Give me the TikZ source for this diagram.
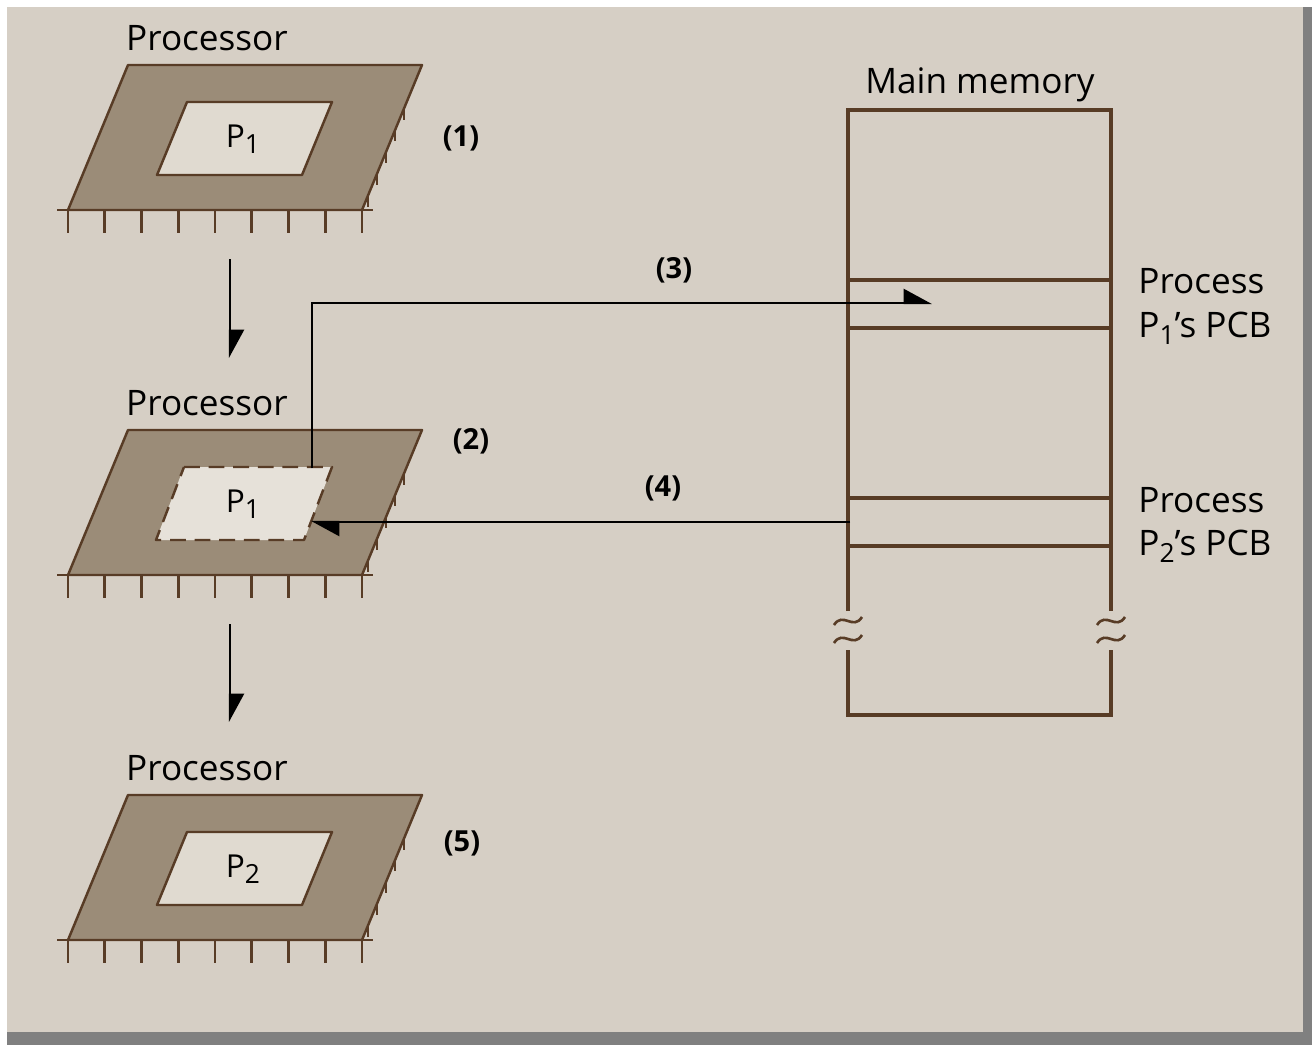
\documentclass[tikz,border=0pt]{standalone}
\usepackage{fontspec}
\setmainfont{Open Sans}
\usetikzlibrary{arrows.meta, positioning}
\definecolor{paper}{RGB}{214,207,197}
\definecolor{chipfill}{RGB}{155,140,120}
\definecolor{chipline}{RGB}{88,60,38}
\definecolor{winfill}{RGB}{224,218,208}
\definecolor{edgegray}{RGB}{128,128,128}
\newcommand{\lowidx}[1]{\raisebox{-0.4ex}{\fontsize{15}{15}\selectfont #1}}

\begin{document}
\begin{tikzpicture}[
  x=0.02cm, y=-0.02cm,
  chip/.style={fill=chipfill, draw=chipline, line width=1.4pt, line join=round},
  win/.style={fill=winfill, draw=chipline, line width=1.4pt, line join=round},
  pin/.style={draw=chipline, line width=1.5pt},
  memline/.style={draw=chipline, line width=1.8pt},
  flow/.style={draw=black, line width=1.2pt, -{Triangle[length=15pt, width=16pt, left]}},
  lbl/.style={font=\fontsize{20}{24}\selectfont, inner sep=0pt},
  pname/.style={font=\fontsize{18}{22}\selectfont, inner sep=0pt, anchor=base},
  stepno/.style={font=\fontsize{16.5}{19}\selectfont\bfseries, inner sep=0pt}
]
% page
\fill[white] (0,0) rectangle (1312,1045);
\fill[edgegray] (7,1032) rectangle (1312,1045);
\fill[edgegray] (1303,7) rectangle (1312,1045);
\fill[paper] (7,7) rectangle (1303,1032);
\useasboundingbox (0,0) rectangle (1312,1045);

% the three processor states
\foreach \k/\dy/\pn/\tag/\tx/\ty in {1/0/1/(1)/461/138, 2/365/1/(2)/471/441, 3/730/2/(5)/462/843} {
  \node[lbl, anchor=base] (proc\k) at (207, 50+\dy) {Processor};
  \draw[chip] (128,65+\dy) -- (422,65+\dy) -- (362,210+\dy) -- (68,210+\dy) -- cycle;
  \draw[pin] (57,210+\dy) -- (373,210+\dy);
  \foreach \j in {0,...,8}
    \draw[pin] (68+36.75*\j, 210+\dy) -- ++(0,23);
  \foreach \t in {0.3,0.45,0.6,0.75,0.9}
    \draw[pin] (422-60*\t, 65+145*\t+\dy) -- ++(0,11);
  \ifnum\k=2
    \draw[win, dashed, dash pattern=on 9pt off 5pt, fill=winfill!80!white]
      (184,102+\dy) -- (332,102+\dy) -- (304,175+\dy) -- (156,175+\dy) -- cycle;
  \else
    \draw[win] (187,102+\dy) -- (332,102+\dy) -- (302,175+\dy) -- (157,175+\dy) -- cycle;
  \fi
  \node[pname] (pid\k) at (243,147+\dy) {P\lowidx{\pn}};
  \node[stepno] (tag\k) at (\tx,\ty) {\tag};
}

% main memory
\node[lbl, anchor=base] (memtitle) at (980,93) {Main memory};
\coordinate (mtl) at (848,110);
\coordinate (mtr) at (1111,110);
\coordinate (mbl) at (848,715);
\coordinate (mbr) at (1111,715);
\draw[memline] (848,611) -- (mtl) -- (mtr) -- (1111,611);
\draw[memline] (848,650) -- (mbl) -- (mbr) -- (1111,650);
\foreach \y in {280,328,498,546}
  \draw[memline] (848,\y) -- (1111,\y);
\foreach \x in {848,1111}
  \foreach \y in {621,639}
    \draw[memline, line width=1.5pt] (\x-14,\y+4) .. controls (\x-5,\y-10) and (\x+5,\y+10) .. (\x+14,\y-4);

\node[lbl, anchor=base west] (pcb1a) at (1138,293) {Process};
\node[lbl, anchor=base west] (pcb1b) at (1138,337) {P\lowidx{1}’s PCB};
\node[lbl, anchor=base west] (pcb2a) at (1138,512) {Process};
\node[lbl, anchor=base west] (pcb2b) at (1138,555) {P\lowidx{2}’s PCB};

% steps
\coordinate (d1s) at (230,259);
\coordinate (d1e) at (230,358);
\coordinate (d2s) at (230,624);
\coordinate (d2e) at (230,722);
\draw[flow] (d1s) -- (d1e);
\draw[flow] (d2s) -- (d2e);

\coordinate (w2top) at (312,468);
\coordinate (pcb1in) at (932,303);
\draw[flow] (w2top) |- (pcb1in);
\node[stepno] (tag3) at (674,270) {(3)};

\coordinate (pcb2out) at (850,522);
\coordinate (w2right) at (311,522);
\draw[flow] (pcb2out) -- (w2right);
\node[stepno] (tag4) at (663,488) {(4)};
\end{tikzpicture}
\end{document}
